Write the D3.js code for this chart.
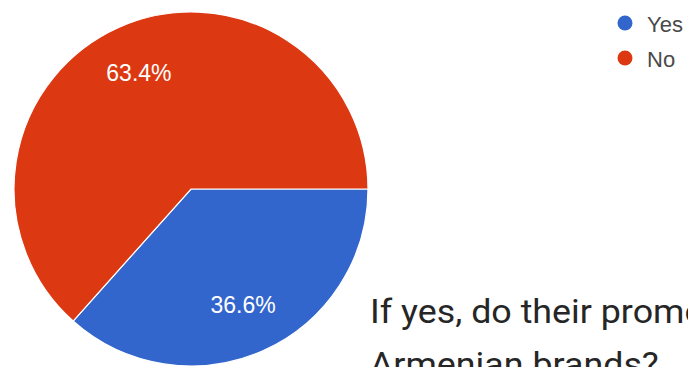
<!DOCTYPE html>
<html>
<head>
<meta charset="utf-8">
<script src="https://cdn.jsdelivr.net/npm/d3@7"></script>
<style>
  html, body { margin: 0; padding: 0; background: #ffffff; }
  svg { display: block; }
</style>
</head>
<body>
<svg id="chart" width="688" height="367"></svg>
<script>
// Survey answers and their shares (percent)
const categories = ["Yes", "No"];
const shares = [36.6, 63.4];
const colors = ["#3366cc", "#dc3912"];
const questionLines = ["If yes, do their promotions include", "Armenian brands?"];

const svg = d3.select("#chart");

const cx = 191, cy = 189, radius = 177;

const data = categories.map((c, i) => ({ name: c, value: shares[i], color: colors[i] }));

// Slices start at 3 o'clock and run clockwise
const pie = d3.pie()
  .value(d => d.value)
  .sort(null)
  .startAngle(Math.PI / 2)
  .endAngle(Math.PI / 2 + 2 * Math.PI);

const arc = d3.arc().innerRadius(0).outerRadius(radius);
const labelArc = d3.arc().innerRadius(radius * 0.72).outerRadius(radius * 0.72);

const g = svg.append("g").attr("transform", `translate(${cx},${cy})`);
const arcs = pie(data);

g.selectAll("path.slice")
  .data(arcs)
  .join("path")
  .attr("class", "slice")
  .attr("d", arc)
  .attr("fill", d => d.data.color)
  .attr("stroke", "#ffffff")
  .attr("stroke-width", 1.2);

const fmt = d3.format(".1f");
g.selectAll("text.pct")
  .data(arcs)
  .join("text")
  .attr("class", "pct")
  .attr("transform", d => `translate(${labelArc.centroid(d)})`)
  .attr("text-anchor", "middle")
  .attr("dominant-baseline", "central")
  .attr("font-family", "Arial, 'Liberation Sans', sans-serif")
  .attr("font-size", 23)
  .attr("fill", "#ffffff")
  .text(d => fmt(d.data.value) + "%");

// Legend
const legendY = d3.scalePoint().domain(categories).range([23, 58]);
const legend = svg.append("g");
const items = legend.selectAll("g.item")
  .data(data)
  .join("g")
  .attr("class", "item")
  .attr("transform", d => `translate(625,${legendY(d.name)})`);
items.append("circle").attr("r", 7.5).attr("fill", d => d.color);
items.append("text")
  .attr("x", 22)
  .attr("y", 1)
  .attr("dominant-baseline", "central")
  .attr("font-family", "Arial, 'Liberation Sans', sans-serif")
  .attr("font-size", 22)
  .attr("fill", "#4a4a4a")
  .text(d => d.name);

// Next question title (runs past the right edge), slightly widened
const q = svg.append("text")
  .attr("transform", "translate(370,0) scale(1.053,1)")
  .attr("font-family", "Roboto, sans-serif")
  .attr("font-size", 34)
  .attr("fill", "#262626");
questionLines.forEach((line, i) => {
  q.append("tspan").attr("x", 0).attr("y", 323 + i * 53).text(line);
});
</script>
</body>
</html>
